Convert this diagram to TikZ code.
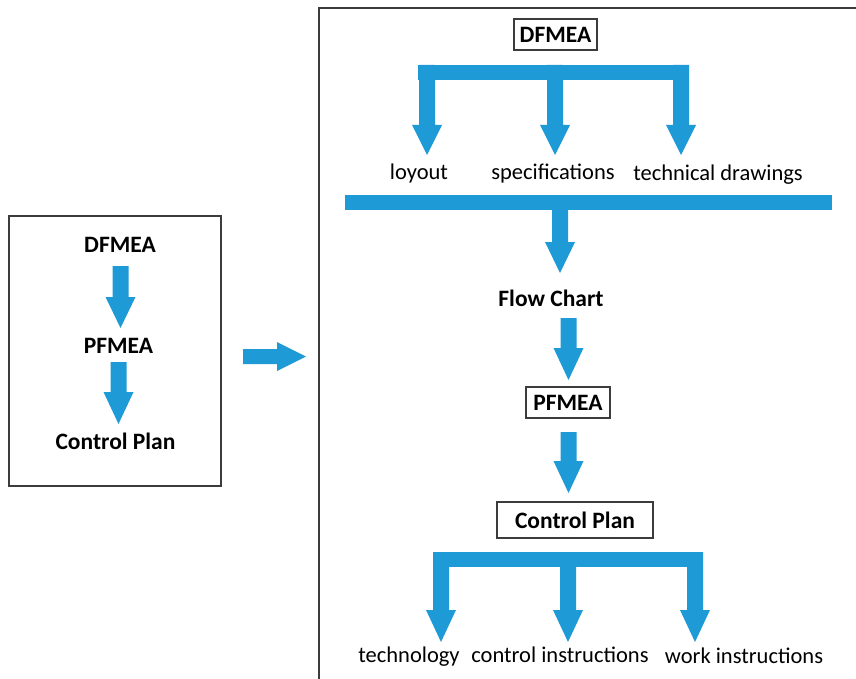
\documentclass[tikz,border=0pt]{standalone}
\usepackage{fontspec}
\setmainfont{Carlito}
\definecolor{ablue}{RGB}{30,155,215}
\definecolor{frm}{RGB}{60,60,60}
\tikzset{
  lbl/.style={font=\fontsize{22.5}{26}\selectfont, inner sep=0pt, anchor=base},
  blbl/.style={font=\fontsize{23.5}{27}\selectfont\bfseries, inner sep=0pt, anchor=base},
  tbox/.style={font=\fontsize{23.5}{27}\selectfont\bfseries, draw=frm, line width=1.3pt, inner sep=0pt, anchor=center},
  frame/.style={draw=frm, line width=1.5pt},
  blk/.style={fill=ablue, draw=none}
}
% #1 centre x, #2 top y, #3 head start y, #4 tip y
\newcommand\dnarr[4]{\fill[blk] (#1-8,#2) -- (#1+8,#2) -- (#1+8,#3) -- (#1+15,#3) -- (#1,#4) -- (#1-15,#3) -- (#1-8,#3) -- cycle;}
\begin{document}
\begin{tikzpicture}[x=1pt,y=-1pt]
\useasboundingbox (0,0) rectangle (856,679);
% frames
\draw[frame] (9,216) rectangle (221,486);
\draw[frame] (319,679) -- (319,8) -- (856,8);

% left column
\node[blbl] (ld) at (120,252) {DFMEA};
\node[blbl] (lp) at (118.5,353) {PFMEA};
\node[blbl] (lc) at (115.5,449) {Control Plan};
\dnarr{120.5}{266}{297}{328}
\dnarr{118.5}{362}{392}{424}

% middle arrow
\fill[blk] (243,349) -- (277,349) -- (277,342) -- (306,356.5) -- (277,371) -- (277,364) -- (243,364) -- cycle;

% right top
\node[tbox, minimum width=83pt, minimum height=31pt] (rd) at (555.5,34.5) {DFMEA};
\fill[blk] (418,65) rectangle (689,80);
\dnarr{427}{65}{125}{155}
\dnarr{555}{65}{125}{155}
\dnarr{681}{65}{125}{155}
\node[lbl] (lay) at (419,180) {loyout};
\node[lbl] (spec) at (553,180) {specifications};
\node[lbl] (tech) at (718,180.5) {technical drawings};
\fill[blk] (345,195) rectangle (832,210);
\dnarr{560}{210}{242}{273}
\node[blbl] (fc) at (551,306) {Flow Chart};
\dnarr{568.5}{318}{348}{380}
\node[tbox, minimum width=84pt, minimum height=31pt] (rp) at (568,402.5) {PFMEA};
\dnarr{568.5}{432}{461}{493}
\node[tbox, minimum width=156pt, minimum height=36pt] (rc) at (575,520) {Control Plan};
\fill[blk] (433,552) rectangle (703,567);
\dnarr{441}{552}{610}{642}
\dnarr{568}{552}{610}{642}
\dnarr{695}{552}{610}{642}
\node[lbl] (tg) at (409,662) {technology};
\node[lbl] (ci) at (560,662) {control instructions};
\node[lbl] (wi) at (744,663) {work instructions};
\end{tikzpicture}
\end{document}
